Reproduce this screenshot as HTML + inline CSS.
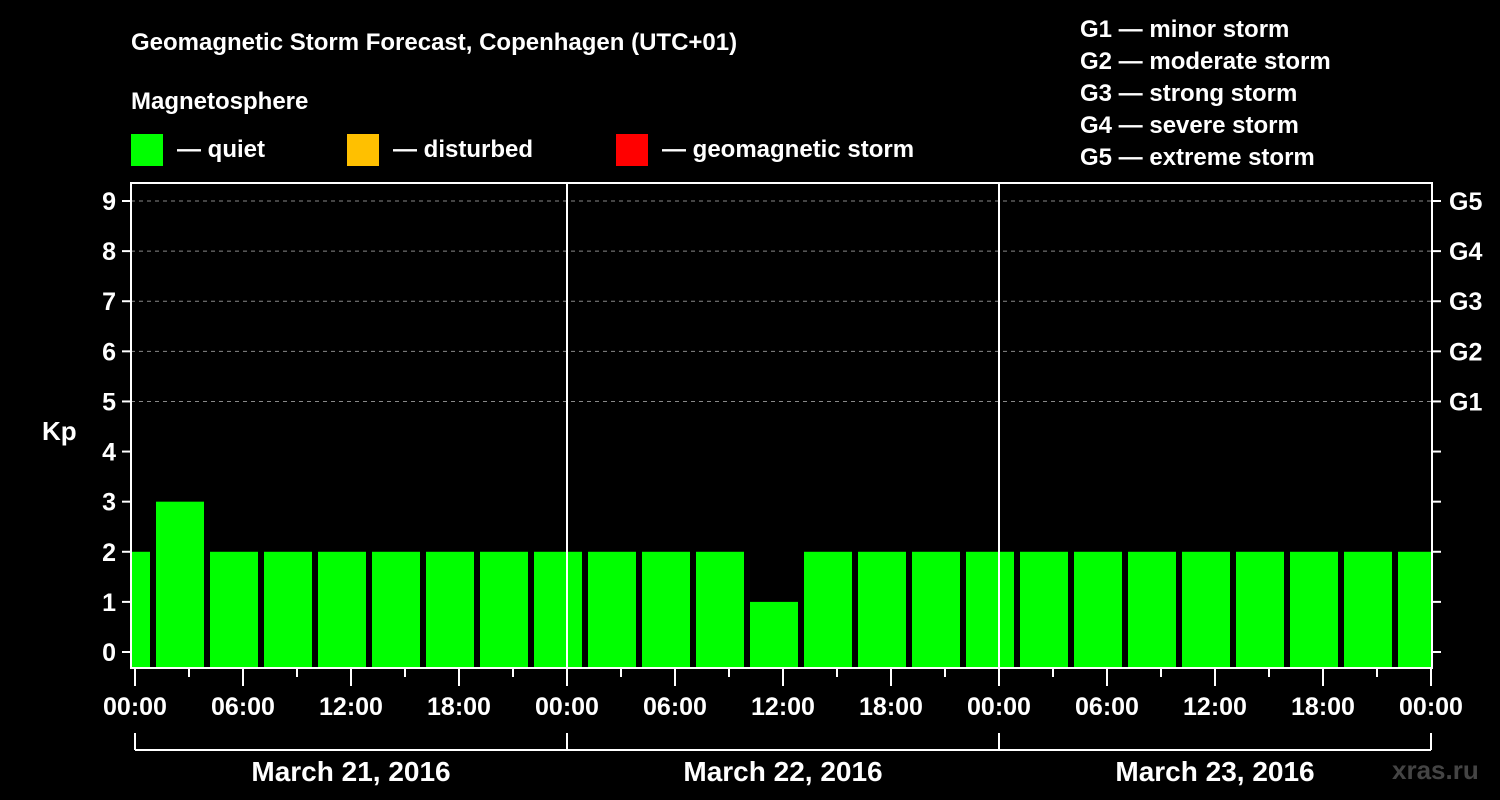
<!DOCTYPE html>
<html><head><meta charset="utf-8"><style>
body{margin:0;background:#000;}
svg{display:block;font-family:"Liberation Sans",Arial,sans-serif;font-weight:bold;}
</style></head><body>
<svg width="1500" height="800" viewBox="0 0 1500 800" xmlns="http://www.w3.org/2000/svg">
<rect width="1500" height="800" fill="#000"/>
<text x="131" y="50" fill="#fff" font-size="24">Geomagnetic Storm Forecast, Copenhagen (UTC+01)</text>
<text x="131" y="109" fill="#fff" font-size="24">Magnetosphere</text>
<g><rect x="131" y="134" width="32" height="32" fill="#00ff00"/><text x="177" y="157" fill="#fff" font-size="24">— quiet</text></g>
<g><rect x="347" y="134" width="32" height="32" fill="#ffc000"/><text x="393" y="157" fill="#fff" font-size="24">— disturbed</text></g>
<g><rect x="616" y="134" width="32" height="32" fill="#ff0000"/><text x="662" y="157" fill="#fff" font-size="24">— geomagnetic storm</text></g>
<g fill="#fff" font-size="24">
<text x="1080" y="37">G1 — minor storm</text>
<text x="1080" y="69">G2 — moderate storm</text>
<text x="1080" y="101">G3 — strong storm</text>
<text x="1080" y="133">G4 — severe storm</text>
<text x="1080" y="165">G5 — extreme storm</text>
</g>
<text x="42" y="440" fill="#fff" font-size="26">Kp</text>
<g id="grid"></g>
<g id="bars"></g>
<g id="axes"></g>
<text x="1392" y="779" fill="#444" font-size="26">xras.ru</text>
</svg>
<script>
const kpValues = [2, 3,2,2,2,2,2,2,2, 2,2,2,1,2,2,2,2, 2,2,2,2,2,2,2,2];
const barHours = [-2, 1,4,7,10,13,16,19,22, 25,28,31,34,37,40,43,46, 49,52,55,58,61,64,67,70];
const yTicks = [0,1,2,3,4,5,6,7,8,9];
const gLabels = ["G1","G2","G3","G4","G5"];
const gLevels = [5,6,7,8,9];
const xTickLabels = ["00:00","06:00","12:00","18:00","00:00","06:00","12:00","18:00","00:00","06:00","12:00","18:00","00:00"];
const dayLabels = ["March 21, 2016","March 22, 2016","March 23, 2016"];

const NS="http://www.w3.org/2000/svg";
const X0=135, HW=18; // px per hour
const xs=h=>X0+h*HW;
const ys=v=>652-v*50.11;
const PL=131, PR=1432, PT=183, PB=668;
function mk(tag,attrs,parent){const e=document.createElementNS(NS,tag);for(const k in attrs)e.setAttribute(k,attrs[k]);parent.appendChild(e);return e;}
const grid=document.getElementById('grid'), bars=document.getElementById('bars'), axes=document.getElementById('axes');

yTicks.forEach(v=>{
  if(v>=5){const l=mk('line',{x1:PL,x2:PR,y1:ys(v),y2:ys(v),stroke:'#888','stroke-width':1,'stroke-dasharray':'4,4'},grid);
  
  }
});
// clip
const defs=mk('defs',{},bars);
const cp=mk('clipPath',{id:'pc'},defs);
mk('rect',{x:PL+1,y:PT,width:PR-PL-2,height:PB-PT},cp);
const bg=mk('g',{'clip-path':'url(#pc)'},bars);
kpValues.forEach((v,i)=>{
  const x1=xs(barHours[i])+3, x2=xs(barHours[i]+3)-3;
  const c=v>=5?'#ff0000':(v>=4?'#ffc000':'#00ff00');
  const r=mk('rect',{x:x1,y:ys(v),width:x2-x1,height:PB-ys(v),fill:c},bg);
  
  
});
// day separators
[1,2].forEach(d=>{const l=mk('line',{x1:xs(24*d),x2:xs(24*d),y1:PT,y2:PB,stroke:'#fff','stroke-width':2},axes);

});
const fr=mk('rect',{x:PL,y:PT,width:PR-PL,height:PB-PT,fill:'none',stroke:'#fff','stroke-width':2},axes);


yTicks.forEach(v=>{
  mk('line',{x1:122,x2:PL,y1:ys(v),y2:ys(v),stroke:'#fff','stroke-width':2},axes);
  mk('line',{x1:PR,x2:1441,y1:ys(v),y2:ys(v),stroke:'#fff','stroke-width':2},axes);
  const t=mk('text',{x:116,y:ys(v)+9,fill:'#fff','font-size':25,'text-anchor':'end'},axes);
  t.textContent=v;
  
  
});
gLabels.forEach((g,i)=>{
  const t=mk('text',{x:1449,y:ys(gLevels[i])+9,fill:'#fff','font-size':25},axes);
  t.textContent=g;
  
  
});
for(let h=0;h<=72;h+=3){
  const major=h%6===0;
  mk('line',{x1:xs(h),x2:xs(h),y1:PB,y2:major?686:677,stroke:'#fff','stroke-width':2},axes);
}
xTickLabels.forEach((s,i)=>{
  const t=mk('text',{x:xs(i*6),y:715,fill:'#fff','font-size':25,'text-anchor':'middle'},axes);
  t.textContent=s;
  
  
});
mk('line',{x1:xs(0),x2:xs(72),y1:750,y2:750,stroke:'#fff','stroke-width':2},axes);
for(let d=0;d<=3;d++) mk('line',{x1:xs(24*d),x2:xs(24*d),y1:733,y2:750,stroke:'#fff','stroke-width':2},axes);
dayLabels.forEach((s,i)=>{
  const t=mk('text',{x:xs(24*i+12),y:781,fill:'#fff','font-size':28,'text-anchor':'middle'},axes);
  t.textContent=s;
  
  
});
</script>
</body></html>
